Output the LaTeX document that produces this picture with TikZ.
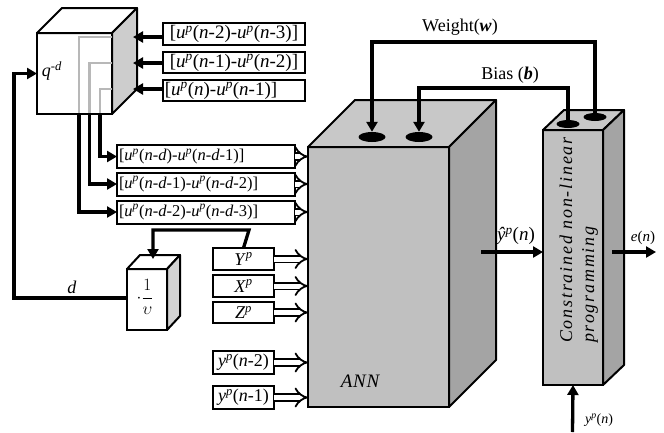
\documentclass[tikz,border=0pt]{standalone}
\usepackage{fontspec}
\setmainfont{Liberation Serif}
\usetikzlibrary{arrows.meta,shapes.geometric}
\newcommand\upP{\textit{u}\textsuperscript{\textit{p}}}
\newcommand\ypP{\textit{y}\textsuperscript{\textit{p}}}
\begin{document}
\begin{tikzpicture}[x=1pt,y=-1pt,
  box/.style={draw, line width=2pt, fill=white, inner sep=0pt, outer sep=0pt, font=\fontsize{19}{21}\selectfont},
  lowbox/.style={box, inner sep=2pt, text width=174pt, align=left, font=\fontsize{16.5}{19}\selectfont},
  smallbox/.style={box, font=\fontsize{18}{20}\selectfont},
  face/.style={draw, line width=2pt, inner sep=0pt, outer sep=0pt},
  conn/.style={line width=3.3pt, -{Triangle[length=10pt,width=11pt]}},
  hollow/.style={double=white, double distance=5pt, line width=1.8pt, -{Implies}},
  hole/.style={ellipse, fill=black, inner sep=0pt},
  lbl/.style={inner sep=0pt, font=\fontsize{18}{20}\selectfont}]
\useasboundingbox (0,0) rectangle (664,432);
\definecolor{annfront}{HTML}{C0C0C0}
\definecolor{anntop}{HTML}{C8C8C8}
\definecolor{annside}{HTML}{A4A4A4}
\definecolor{greyline}{HTML}{B8B8B8}

% ---- q^{-d} cube
\node[face, fill=white, minimum width=75pt, minimum height=81pt] (q) at (74.5,73.5) {};
\draw[line width=2pt, fill=white, line join=round] (q.north west) -- ++(25,-25) -- ++(75,0) -- (q.north east) -- cycle;
\draw[line width=2pt, fill=annfront!80, line join=round] (q.north east) -- ++(25,-25) -- ++(0,81) -- (q.south east) -- cycle;
\node[lbl] (qlab) at (52,71) {\textit{q}\textsuperscript{-\textit{d}}};

% ---- upper boxes
\node[box, minimum width=142pt, minimum height=22pt] (b1) at (234,34) {[\upP(\textit{n}-2)-\upP(\textit{n}-3)]};
\node[box, minimum width=142pt, minimum height=21pt] (b2) at (234,62.5) {[\upP(\textit{n}-1)-\upP(\textit{n}-2)]};
\node[box, minimum width=142pt, minimum height=21pt] (b3) at (234,90.5) {[\upP(\textit{n})-\upP(\textit{n}-1)]\hspace*{26pt}};

\coordinate (s1) at (133,37);
\coordinate (s2) at (133,63);
\coordinate (s3) at (133,89);
\coordinate (cC) at (79,114);
\coordinate (cB) at (89.5,114);
\coordinate (cA) at (100,114);

\draw[greyline, line width=2.4pt] (q.east |- s1) -| (cC);
\draw[greyline, line width=2.4pt] (q.east |- s2) -| (cB);
\draw[greyline, line width=2.4pt] (q.east |- s3) -| (cA);
\draw[line width=2pt] (q.south west) -- (q.south east);

\draw[conn] (b1.west |- s1) -- (s1);
\draw[conn] (b2.west |- s2) -- (s2);
\draw[conn] (b3.west |- s3) -- (s3);

% ---- lower boxes
\node[lowbox, minimum height=23pt] (bA) at (206,156.5) {[\upP(\textit{n}-\textit{d})-\upP(\textit{n}-\textit{d}-1)]};
\node[lowbox, minimum height=23pt] (bB) at (206,184) {[\upP(\textit{n}-\textit{d}-1)-\upP(\textit{n}-\textit{d}-2)]};
\node[lowbox, minimum height=23pt] (bC) at (206,212) {[\upP(\textit{n}-\textit{d}-2)-\upP(\textit{n}-\textit{d}-3)]};

\draw[conn] (cA) |- (bA.west);
\draw[conn] (cB) |- (bB.west);
\draw[conn] (cC) |- (bC.west);

% ---- small input boxes
\node[smallbox, minimum width=61pt, minimum height=22pt] (Y) at (243.5,259) {\textit{Y}\textsuperscript{\textit{p}}};
\node[smallbox, minimum width=61pt, minimum height=22pt] (X) at (243.5,286) {\textit{X}\textsuperscript{\textit{p}}};
\node[smallbox, minimum width=61pt, minimum height=21pt] (Z) at (243.5,312.5) {\textit{Z}\textsuperscript{\textit{p}}};
\node[smallbox, minimum width=61pt, minimum height=23pt] (yn2) at (243.5,362.5) {\ypP(\textit{n}-2)};
\node[smallbox, minimum width=61pt, minimum height=23pt] (yn1) at (243.5,397.5) {\ypP(\textit{n}-1)};

% ---- 1/v cube
\node[face, fill=white, minimum width=40pt, minimum height=61pt] (v) at (147,299.5) {};
\draw[line width=2pt, fill=white, line join=round] (v.north west) -- ++(13,-14) -- ++(40,0) -- (v.north east) -- cycle;
\draw[line width=2pt, fill=annfront!70, line join=round] (v.north east) -- ++(13,-14) -- ++(0,61) -- (v.south east) -- cycle;
\node[inner sep=0pt, font=\fontsize{17}{19}\selectfont] (vlab) at (145,297) {$\cdot\displaystyle\frac{1}{\upsilon}$};
\coordinate (vtop) at (153,259);
\coordinate (ybend) at (249,230);
\draw[conn] (Y.north) -- (ybend) -| (vtop);

% ---- d feedback
\coordinate (dcorner) at (14,298);
\draw[conn] (v.west |- dcorner) -- (dcorner) |- (q.west);
\node[lbl] (dlab) at (72,287) {\textit{d}};

% ---- ANN cube
\node[face, fill=annfront, minimum width=141pt, minimum height=260pt] (ann) at (378.5,277) {};
\draw[line width=2pt, fill=anntop, line join=round] (ann.north west) -- ++(47,-47) -- ++(141,0) -- (ann.north east) -- cycle;
\draw[line width=2pt, fill=annside, line join=round] (ann.north east) -- ++(47,-47) -- ++(0,260) -- (ann.south east) -- cycle;
\node[hole, minimum width=27pt, minimum height=10pt] (w1) at (372,137) {};
\node[hole, minimum width=27pt, minimum height=10pt] (bi1) at (419,137) {};
\node[inner sep=0pt, font=\fontsize{19}{21}\selectfont\itshape\addfontfeatures{LetterSpace=4}] (annlab) at (360,381) {ANN};

% ---- Constrained box
\node[face, fill=annfront, minimum width=60pt, minimum height=255pt] (cnp) at (573,257.5) {};
\draw[line width=2pt, fill=anntop, line join=round] (cnp.north west) -- ++(21,-20) -- ++(60,0) -- (cnp.north east) -- cycle;
\draw[line width=2pt, fill=annside, line join=round] (cnp.north east) -- ++(21,-20) -- ++(0,255) -- (cnp.south east) -- cycle;
\node[hole, minimum width=23pt, minimum height=8pt] (bi2) at (568,124) {};
\node[hole, minimum width=23pt, minimum height=8pt] (w2) at (595,117) {};
\node[inner sep=0pt, anchor=west, rotate=90, font=\fontsize{18}{20}\selectfont\itshape\addfontfeatures{LetterSpace=10}] (cl1) at (566,343) {Constrained non-linear};
\node[inner sep=0pt, anchor=west, rotate=90, font=\fontsize{18}{20}\selectfont\itshape\addfontfeatures{LetterSpace=10}] (cl2) at (590,343) {programming};

% ---- weight & bias
\coordinate (wtop) at (372,42);
\coordinate (btop) at (419,88);
\draw[conn] (w2.north) |- (wtop) -- (w1.north);
\draw[conn] (bi2.north) |- (btop) -- (bi1.north);
\node[lbl] (wlab) at (460,27) {Weight(\textbf{\textit{w}})};
\node[lbl] (blab) at (510,75) {Bias (\textbf{\textit{b}})};

% ---- hollow arrows into ANN
\foreach \n in {bA,bB,bC,Y,X,Z,yn2,yn1}
  \draw[hollow] (\n.east) -- (\n.east -| ann.west);

% ---- outputs
\coordinate (yhs) at (481,252);
\draw[conn] (yhs) -- (yhs -| cnp.west);
\node[inner sep=0pt, font=\fontsize{19}{21}\selectfont] (yhlab) at (516,236) {\textit{ŷ}\textsuperscript{\textit{p}}(\textit{n})};
\coordinate (es) at (612,252);
\coordinate (ee) at (656,252);
\draw[conn] (es) -- (ee);
\node[inner sep=0pt, font=\fontsize{15}{17}\selectfont] (elab) at (643,238) {\textit{e}(\textit{n})};
\coordinate (yb) at (572.5,432);
\draw[conn] (yb) -- (cnp.south);
\node[inner sep=0pt, font=\fontsize{14}{16}\selectfont] (yplab) at (599,420) {\ypP(\textit{n})};
\end{tikzpicture}
\end{document}
